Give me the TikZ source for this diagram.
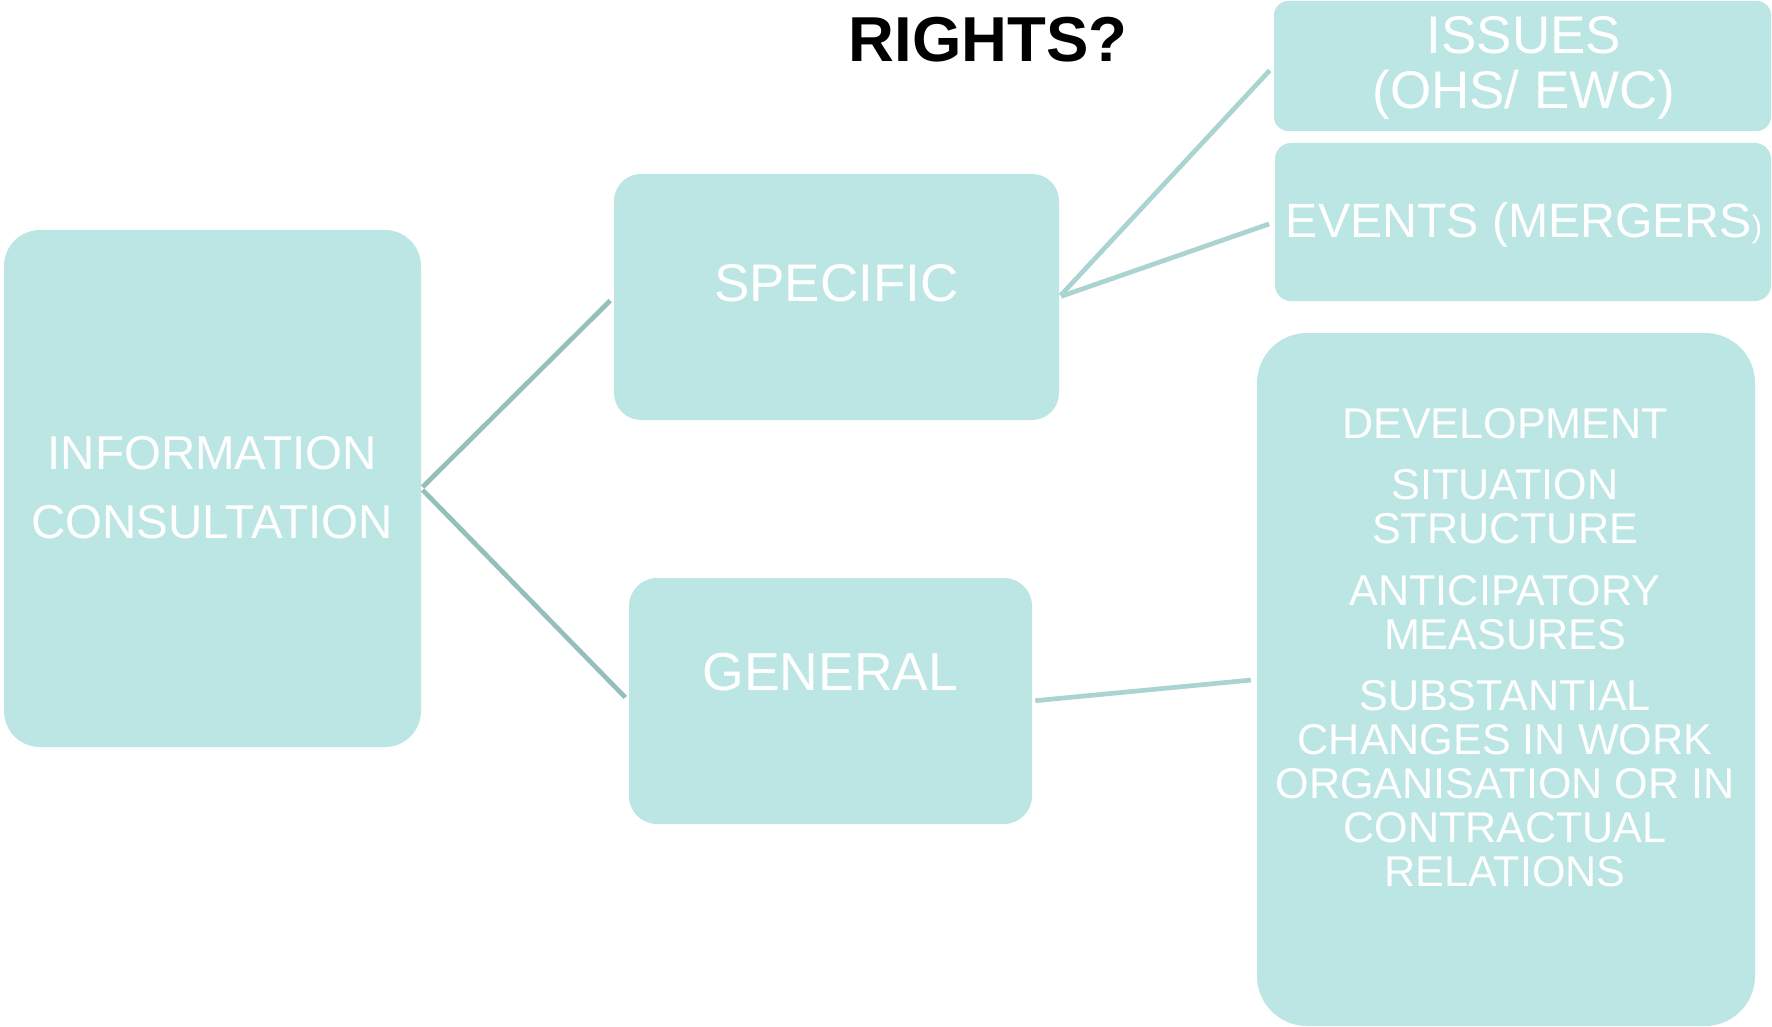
\documentclass[tikz,border=0pt]{standalone}
\usepackage{fontspec}
\setmainfont{Liberation Sans}
\definecolor{boxfill}{RGB}{187,230,228}
\definecolor{linkdark}{RGB}{148,191,187}
\definecolor{linklight}{RGB}{169,212,209}
\newcommand\fsz[1]{\fontsize{#1}{#1}\selectfont}
\begin{document}
\begin{tikzpicture}[x=1pt,y=-1pt,
  box/.style={fill=boxfill, draw=none, inner sep=0pt, rounded corners=#1},
  lbl/.style={text=white, inner sep=0pt, anchor=base},
  linkL/.style={draw=linkdark, line width=4.7pt},
  linkR/.style={draw=linklight, line width=4.7pt}]
\useasboundingbox (0,0) rectangle (1772,1027);

% title
\node[inner sep=0pt, anchor=base, font=\fsz{63.5}\bfseries] (title) at (988,62) {RIGHTS?};

% boxes
\node[box=36pt, minimum width=417pt, minimum height=517pt] (info) at (212.5,488.5) {};
\node[box=27pt, minimum width=445pt, minimum height=246pt] (spec) at (836.5,297) {};
\node[box=28pt, minimum width=403pt, minimum height=246pt] (gen) at (830.5,701) {};
\node[box=14pt, minimum width=497pt, minimum height=130pt] (issues) at (1522.5,66) {};
\node[box=16pt, minimum width=496pt, minimum height=158pt] (events) at (1523,222) {};
\node[box=50pt, minimum width=498pt, minimum height=693pt] (big) at (1506,679.5) {};

% labels
\node[lbl, font=\fsz{47.5}] (info-a) at (212,469) {INFORMATION};
\node[lbl, font=\fsz{47.5}] (info-b) at (212,538.5) {CONSULTATION};
\node[lbl, font=\fsz{53}] (spec-a) at (836.5,301) {SPECIFIC};
\node[lbl, font=\fsz{53.5}] (gen-a) at (830.5,690) {GENERAL};
\node[lbl, font=\fsz{53}] (issues-a) at (1524,54) {ISSUES};
\node[lbl, font=\fsz{53}] (issues-b) at (1524,109) {(OHS/ EWC)};
\node[lbl, font=\fsz{48.2}] (events-a) at (1524,237) {EVENTS (MERGERS{\fsz{31})}};
\foreach \yy/\tt [count=\i] in {438.5/DEVELOPMENT, 499/SITUATION, 543/STRUCTURE,
    605/ANTICIPATORY, 649/MEASURES, 710.5/SUBSTANTIAL, 754/CHANGES IN WORK,
    798/ORGANISATION OR IN, 842/CONTRACTUAL, 886/RELATIONS}
  \node[lbl, font=\fsz{43.1}] (big-\i) at (1505,\yy) {\tt};

% connectors
\draw[linkL, shorten <=2pt, shorten >=5pt] (info.east) -- (spec.west);
\draw[linkL, shorten <=2pt, shorten >=5pt] (info.east) -- (gen.west);
\draw[linkR, shorten <=2pt, shorten >=6pt] (spec.east) -- (issues.west);
\draw[linkR, shorten <=2pt, shorten >=6pt] (spec.east) -- (events.west);
\draw[linkR, shorten <=3pt, shorten >=6pt] (gen.east) -- (big.west);
\end{tikzpicture}
\end{document}
